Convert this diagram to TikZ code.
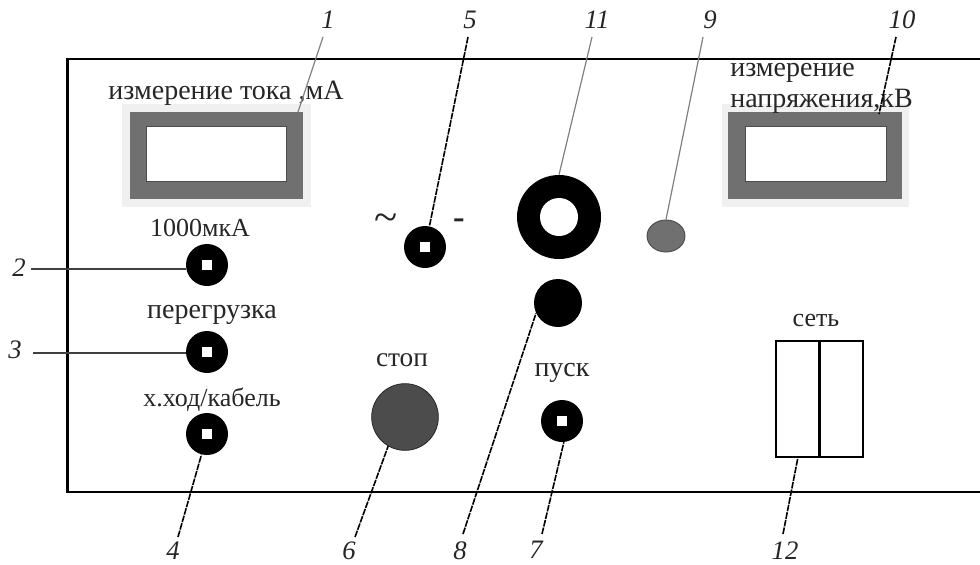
\documentclass[tikz,border=0pt]{standalone}
\usepackage{fontspec}
\usetikzlibrary{shapes.geometric}
\setmainfont{Liberation Serif}
\tikzset{
  x=0.75pt,y=-0.75pt,
  panel/.style={draw=black,line width=1.6pt},
  halo/.style={fill=black!6,draw=none},
  meterbox/.style={fill=black!56,draw=none},
  screen/.style={fill=white,draw=black!70,line width=0.5pt},
  txt/.style={font=\fontsize{19.5pt}{22pt}\selectfont,inner sep=0pt,text=black!85},
  txtb/.style={font=\fontsize{21pt}{22pt}\selectfont,inner sep=0pt,text=black!85},
  num/.style={font=\fontsize{20pt}{22pt}\selectfont\itshape,inner sep=0pt,text=black!85},
  btn/.style={circle,fill=black,draw=none,inner sep=0pt,minimum size=31.5pt},
  hole/.style={rectangle,fill=white,draw=none,inner sep=0pt,minimum size=7.5pt},
  leadsolid/.style={draw=black!75,line width=1.3pt},
  leadgray/.style={draw=black!50,line width=0.9pt},
  leaddash/.style={draw=black,line width=1.2pt,dash pattern=on 5pt off 0.8pt},
  boxline/.style={draw=black,line width=1.3pt},
}
\begin{document}
\begin{tikzpicture}
\useasboundingbox (0,0) rectangle (980,564);
\fill[white] (0,0) rectangle (980,564);
% panel
\draw[panel] (980,59) -- (67.5,59) -- (67.5,492) -- (980,492);
\draw[draw=black,line width=0.7pt] (68.5,59) -- (68.5,492);
% meters
\fill[halo] (122,104) rectangle (311,207);
\fill[halo] (722,104) rectangle (909,207);
\node[meterbox,minimum width=129.75pt,minimum height=65.25pt,inner sep=0pt] (m1) at (216.5,155.5) {};
\node[screen,minimum width=105pt,minimum height=41.25pt,inner sep=0pt] (s1) at (216,153.5) {};
\node[meterbox,minimum width=130.5pt,minimum height=65.25pt,inner sep=0pt] (m2) at (815,155.5) {};
\node[screen,minimum width=105.75pt,minimum height=41.25pt,inner sep=0pt] (s2) at (815.5,153.5) {};
% buttons
\node[btn] (b2) at (207,265) {}; \node[hole] (h2) at (b2) {};
\node[btn] (b3) at (207,352) {}; \node[hole] (h3) at (b3) {};
\node[btn] (b4) at (207,434) {}; \node[hole] (h4) at (b4) {};
\node[btn] (b5) at (425,247) {}; \node[hole] (h5) at (b5) {};
\node[btn] (b7) at (562,421) {}; \node[hole] (h7) at (b7) {};
\node[circle,fill=black,inner sep=0pt,minimum size=63pt] (b11) at (559,217) {};
\node[circle,fill=white,inner sep=0pt,minimum size=28.5pt] (h11) at (b11) {};
\node[circle,fill=black,inner sep=0pt,minimum size=36pt] (b8) at (558,303) {};
\node[ellipse,fill=black!56,draw=black!70,line width=0.7pt,inner sep=0pt,minimum width=28.5pt,minimum height=24pt] (b9) at (666,236) {};
\node[circle,fill=black!70,draw=black!85,line width=0.6pt,inner sep=0pt,minimum size=50pt] (b6) at (405,417) {};
% socket
\node[rectangle,boxline,inner sep=0pt,minimum width=65.25pt,minimum height=87pt] (b12) at (819.5,399) {};
\draw[boxline,line width=1.7pt] (b12.north) -- (b12.south);
% texts
\node[txtb] (t1) at (226,93) {измерение тока ,мА};
\node[txt] (t2) at (200,228) {1000мкА};
\node[txtb] (t3) at (212,315) {перегрузка};
\node[txt] (t4) at (212,400) {х.ход/кабель};
\node[txt,font=\fontsize{20.5pt}{22pt}\selectfont] (t6) at (402,360) {стоп};
\node[txtb] (t7) at (562,373) {пуск};
\node[txt] (t12) at (816,320) {сеть};
\node[txtb,anchor=base west] (t10a) at (730,76) {измерение};
\node[txtb,anchor=base west] (t10b) at (730,107) {напряжения,кВ};
\node[txt,font=\fontsize{32pt}{34pt}\selectfont] (tt) at (386,223) {\textasciitilde};
\node[txt,font=\fontsize{26pt}{28pt}\selectfont\bfseries] (tm) at (459,224) {-};
% numbers
\node[num] (n1) at (328,20) {1};
\node[num] (n5) at (470,20) {5};
\node[num] (n11) at (597,20) {11};
\node[num] (n9) at (710,20) {9};
\node[num] (n10) at (902,20) {10};
\node[num] (n2) at (19,268) {2};
\node[num] (n3) at (15,350) {3};
\node[num] (n4) at (173,551) {4};
\node[num] (n6) at (349,551) {6};
\node[num] (n8) at (460,551) {8};
\node[num] (n7) at (536,550) {7};
\node[num] (n12) at (785,551) {12};
% free ends
\coordinate (l1) at (323,37); \coordinate (e1) at (298,112);
\coordinate (l5) at (468,37);
\coordinate (l11) at (592,37);
\coordinate (l9) at (703,37);
\coordinate (l10) at (896,37); \coordinate (e10) at (879,114);
\coordinate (l2) at (31,269);
\coordinate (l3) at (33,353);
\coordinate (l4) at (178,537);
\coordinate (l6) at (355,537);
\coordinate (l8) at (463,534);
\coordinate (l7) at (542,534);
\coordinate (l12) at (783,534); \coordinate (e12) at (798,457);
% leaders
\draw[leadgray] (l1) -- (e1);
\draw[leaddash] (l5) -- (b5.78);
\draw[leadgray] (l11) -- (b11.north);
\draw[leadgray] (l9) -- (b9.north);
\draw[leaddash] (l10) -- (e10);
\draw[leadsolid] (l2) -- (b2.west |- l2);
\draw[leadsolid] (l3) -- (b3.west |- l3);
\draw[leaddash] (l4) -- (b4.-105);
\draw[leaddash] (l6) -- (b6.-120);
\draw[leaddash] (l8) -- (b8.-155);
\draw[leaddash] (l7) -- (b7.-85);
\draw[leaddash] (l12) -- (e12);
\end{tikzpicture}
\end{document}
